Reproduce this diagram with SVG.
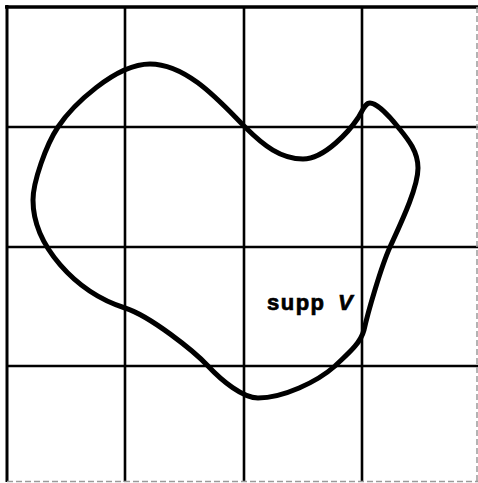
<svg xmlns="http://www.w3.org/2000/svg" width="478" height="483" viewBox="0 0 478 483">
<style>
.grid{stroke:#000;stroke-width:2.6;fill:none}
.faint{stroke:#9a9a9a;stroke-width:1.5;stroke-dasharray:6 3;fill:none}
.curve{stroke:#000;stroke-width:5;fill:none;stroke-linejoin:round}
.lbl{font-family:"Liberation Sans",Arial,sans-serif;font-size:22px;font-weight:bold;fill:#000;stroke:#000;stroke-width:0.7}
</style>
<rect width="478" height="483" fill="#fff"/>
<g id="grid">
<line class="grid" x1="5" y1="7" x2="478" y2="7" style="stroke-width:3.4"/>
<line class="grid" x1="7" y1="5" x2="7" y2="482" style="stroke-width:3"/>
<line class="grid" x1="125" y1="7" x2="125" y2="482"/>
<line class="grid" x1="244" y1="7" x2="244" y2="482"/>
<line class="grid" x1="362" y1="7" x2="362" y2="482"/>
<line class="grid" x1="7" y1="127" x2="478" y2="127"/>
<line class="grid" x1="7" y1="247" x2="478" y2="247"/>
<line class="grid" x1="7" y1="366" x2="478" y2="366"/>
<line class="faint" x1="477" y1="7" x2="477" y2="482"/>
<line class="faint" x1="7" y1="481.5" x2="478" y2="481.5"/>
</g>
<g id="supp">
<path class="curve" d="M150,64 C188,64 222,104 245,127 C264,146 281,159 303,159 C325,159 350,130 358,118 C363,110 365,103 370,103 C377,103 390,117 398,127 C406,137 418,150 418,168 C418,188 400,225 390,247 C381,267 368,312 364,330 C360,345 345,356 335,366 C317,382 283,398 258,398 C243,398 222,381 208,366 C194,351 150,316 125,308 C75,292 33,245 33,200 C33,182 46,145 58,127 C72,106 115,64 150,64 Z"/>
<text class="lbl" x="267" y="310" letter-spacing="1.5">supp</text>
<text class="lbl" x="338" y="310" font-style="italic" font-size="23">V</text>
</g>
</svg>
